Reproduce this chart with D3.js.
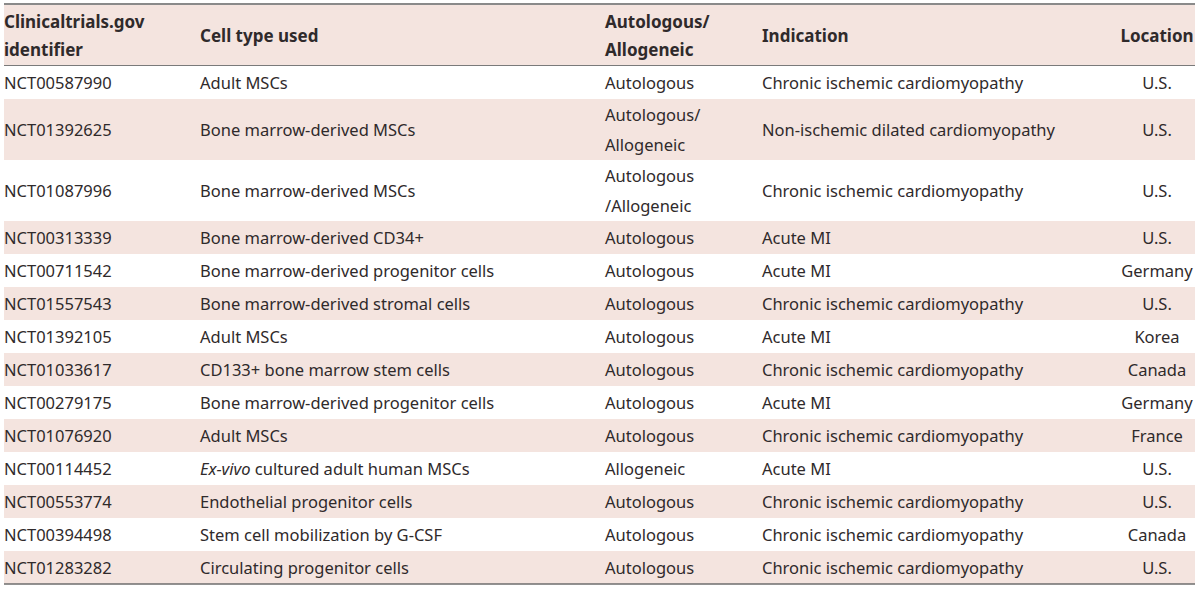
<!DOCTYPE html>
<html>
<head>
<meta charset="utf-8">
<script src="https://cdn.jsdelivr.net/npm/d3@7"></script>
<style>
  body { margin: 0; background: #fff; }
  svg text { font-family: "Noto Sans", sans-serif; fill: #2f2a2b; }
</style>
</head>
<body>
<svg id="table"></svg>
<script>
const headers = [["Clinicaltrials.gov", "identifier"], ["Cell type used"], ["Autologous/", "Allogeneic"], ["Indication"], ["Location"]];

const ids = ["NCT00587990", "NCT01392625", "NCT01087996", "NCT00313339", "NCT00711542", "NCT01557543", "NCT01392105",
             "NCT01033617", "NCT00279175", "NCT01076920", "NCT00114452", "NCT00553774", "NCT00394498", "NCT01283282"];

const cellTypes = ["Adult MSCs", "Bone marrow-derived MSCs", "Bone marrow-derived MSCs", "Bone marrow-derived CD34+",
                   "Bone marrow-derived progenitor cells", "Bone marrow-derived stromal cells", "Adult MSCs",
                   "CD133+ bone marrow stem cells", "Bone marrow-derived progenitor cells", "Adult MSCs",
                   "Ex-vivo cultured adult human MSCs", "Endothelial progenitor cells", "Stem cell mobilization by G-CSF",
                   "Circulating progenitor cells"];

const sources = [["Autologous"], ["Autologous/", "Allogeneic"], ["Autologous", "/Allogeneic"], ["Autologous"], ["Autologous"],
                 ["Autologous"], ["Autologous"], ["Autologous"], ["Autologous"], ["Autologous"], ["Allogeneic"],
                 ["Autologous"], ["Autologous"], ["Autologous"]];

const indications = ["Chronic ischemic cardiomyopathy", "Non-ischemic dilated cardiomyopathy", "Chronic ischemic cardiomyopathy",
                     "Acute MI", "Acute MI", "Chronic ischemic cardiomyopathy", "Acute MI", "Chronic ischemic cardiomyopathy",
                     "Acute MI", "Chronic ischemic cardiomyopathy", "Acute MI", "Chronic ischemic cardiomyopathy",
                     "Chronic ischemic cardiomyopathy", "Chronic ischemic cardiomyopathy"];

const locations = ["U.S.", "U.S.", "U.S.", "U.S.", "Germany", "U.S.", "Korea", "Canada", "Germany", "France",
                   "U.S.", "U.S.", "Canada", "U.S."];

const width = 1200, height = 589;
const leftX = 4, rightX = 1195, topY = 4, headerH = 61;
const colX = [4, 200, 605, 762, 1157];
const colAnchor = ["start", "start", "start", "start", "middle"];
const pink = "#f4e4df";

const svg = d3.select("#table").attr("width", width).attr("height", height);

const rows = ids.map((id, i) => ({
  cells: [[id], [cellTypes[i]], sources[i], [indications[i]], [locations[i]]]
}));
rows.forEach(r => r.lines = d3.max(r.cells, c => c.length));
const rowH = n => n === 1 ? 33 : 61;
const offsets = [0, ...d3.cumsum(rows, r => rowH(r.lines))];
const y0 = topY + headerH + 1;
rows.forEach((r, i) => { r.y = y0 + offsets[i]; r.h = rowH(r.lines); });

// header
svg.append("rect").attr("x", leftX).attr("y", topY).attr("width", rightX - leftX).attr("height", headerH + 1).attr("fill", pink);

const head = svg.append("g").attr("font-weight", "bold").attr("font-size", 17);
headers.forEach((h, j) => {
  const cy = topY + headerH / 2;
  h.forEach((line, k) => {
    head.append("text")
        .attr("x", colX[j])
        .attr("y", cy + (k - (h.length - 1) / 2) * 28 + 7)
        .attr("text-anchor", colAnchor[j])
        .text(line);
  });
});

// body rows
const g = svg.append("g").attr("font-size", 16.5);
const rowG = g.selectAll("g.row").data(rows).enter().append("g").attr("class", "row");

rowG.append("rect")
    .attr("x", leftX).attr("width", rightX - leftX)
    .attr("y", d => d.y).attr("height", d => d.h)
    .attr("fill", (d, i) => i % 2 === 1 ? pink : "#fff");

rowG.each(function(d) {
  const sel = d3.select(this);
  d.cells.forEach((c, j) => {
    c.forEach((line, k) => {
      const t = sel.append("text")
        .attr("x", colX[j])
        .attr("y", d.y + d.h / 2 + (k - (c.length - 1) / 2) * 30 + 6)
        .attr("text-anchor", colAnchor[j]);
      if (line.startsWith("Ex-vivo")) {
        t.append("tspan").attr("font-style", "italic").text("Ex-vivo");
        t.append("tspan").text(line.slice(7));
      } else {
        t.text(line);
      }
    });
  });
});

// rules
const last = rows[rows.length - 1];
svg.append("line").attr("x1", leftX).attr("x2", rightX).attr("y1", topY).attr("y2", topY)
   .attr("stroke", "#8a8a8a").attr("stroke-width", 2);
svg.append("line").attr("x1", leftX).attr("x2", rightX).attr("y1", topY + headerH + 0.5).attr("y2", topY + headerH + 0.5)
   .attr("stroke", "#7a7a7a").attr("stroke-width", 1.2);
svg.append("line").attr("x1", leftX).attr("x2", rightX).attr("y1", last.y + last.h).attr("y2", last.y + last.h)
   .attr("stroke", "#6e6e6e").attr("stroke-width", 1.5);
</script>
</body>
</html>
